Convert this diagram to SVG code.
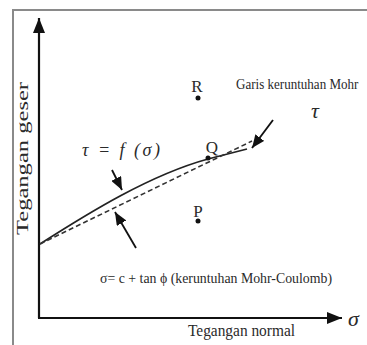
<svg xmlns="http://www.w3.org/2000/svg" width="367" height="345" viewBox="0 0 367 345">
<defs>
<marker id="axhead" markerUnits="userSpaceOnUse" markerWidth="16" markerHeight="12" refX="15" refY="6" orient="auto"><path d="M0,0 L15,6 L0,12 Z" fill="#111"/></marker>
<marker id="head" markerUnits="userSpaceOnUse" markerWidth="14" markerHeight="11" refX="13" refY="5.5" orient="auto"><path d="M0,0 L13,5.5 L0,11 Z" fill="#111"/></marker>
<style>
.t{font-family:"Liberation Serif","Times New Roman",serif;fill:#2a2a2a}
.i{font-style:italic}
.ax{stroke:#111;stroke-width:2.2;fill:none}
.ln{stroke:#222;stroke-width:1.8;fill:none}
.ds{stroke:#333;stroke-width:1.6;fill:none;stroke-dasharray:5 3}
.ar{stroke:#111;stroke-width:1.8;fill:none}
</style>
</defs>
<rect width="367" height="345" fill="#fff"/>
<path d="M13,345 L13,10 L367,10" stroke="#8a8a8a" stroke-width="2" fill="none"/>
<g id="axes">
<line class="ax" x1="39" y1="318" x2="39" y2="18" marker-end="url(#axhead)"/>
<line class="ax" x1="38" y1="318" x2="342" y2="318" marker-end="url(#axhead)"/>
<text class="t i" x="348" y="326" font-size="22">σ</text>
<text class="t" x="188" y="336" font-size="16" textLength="107" lengthAdjust="spacingAndGlyphs">Tegangan normal</text>
<text class="t" transform="translate(28,235) rotate(-90)" font-size="16" textLength="153" lengthAdjust="spacingAndGlyphs">Tegangan geser</text>
</g>
<g id="connectors">
<path class="ln" d="M40,244 C90,212 150,175 208,159 L247,149"/>
<path class="ds" d="M40,244 L252,141"/>
<line class="ar" x1="273" y1="120" x2="252" y2="148" marker-end="url(#head)"/>
<line class="ar" x1="112" y1="170" x2="122" y2="190" marker-end="url(#head)"/>
<line class="ar" x1="136" y1="248" x2="115" y2="212" marker-end="url(#head)"/>
</g>
<g id="R"><text class="t" x="197" y="92" font-size="17" text-anchor="middle">R</text><circle cx="198" cy="98" r="2.5" fill="#111"/></g>
<g id="Q"><text class="t" x="212" y="153" font-size="17" text-anchor="middle">Q</text><circle cx="208" cy="158" r="2.5" fill="#111"/></g>
<g id="P"><text class="t" x="198" y="217" font-size="17" text-anchor="middle">P</text><circle cx="198" cy="221" r="2.5" fill="#111"/></g>
<g id="labels">
<text class="t" transform="translate(236,89) scale(0.87,1)" font-size="15">Garis keruntuhan Mohr</text>
<text class="t i" x="311" y="118" font-size="22">τ</text>
<text class="t i" x="82" y="156" font-size="18" textLength="78" lengthAdjust="spacing">τ = f (σ)</text>
<text class="t" x="100" y="283" font-size="15" textLength="232" lengthAdjust="spacingAndGlyphs">σ= c + tan ϕ (keruntuhan Mohr-Coulomb)</text>
</g>
</svg>
